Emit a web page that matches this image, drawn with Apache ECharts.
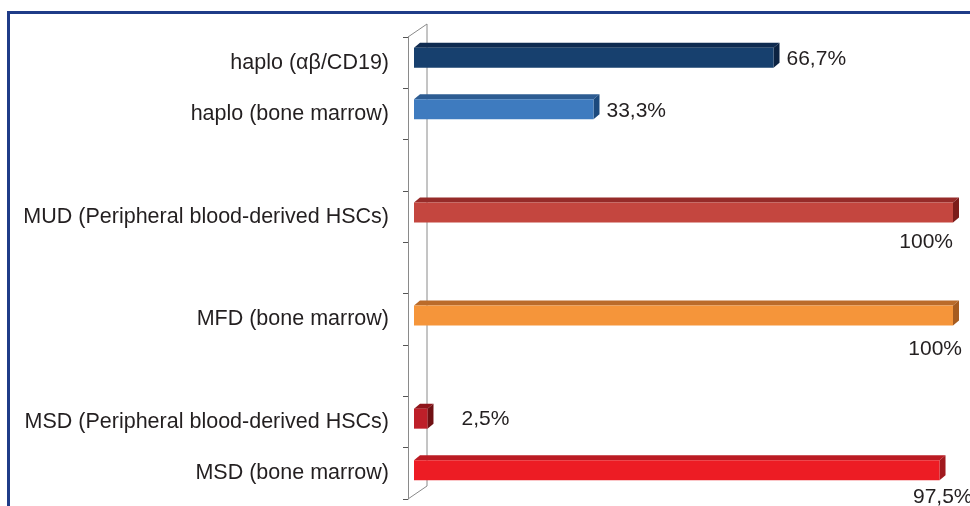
<!DOCTYPE html>
<html>
<head>
<meta charset="utf-8">
<script src="https://cdn.jsdelivr.net/npm/echarts@6/dist/echarts.min.js"></script>
<style>
  html, body { margin: 0; padding: 0; background: #ffffff; }
  #chart { width: 970px; height: 506px; }
</style>
</head>
<body>
<div id="chart"></div>
<script>
// Donor / graft source groups (blank entries are spacer rows)
const categories = [
  'haplo (αβ/CD19)',
  'haplo (bone marrow)',
  '',
  'MUD (Peripheral blood-derived HSCs)',
  '',
  'MFD (bone marrow)',
  '',
  'MSD (Peripheral blood-derived HSCs)',
  'MSD (bone marrow)'
];

// Share of patients per group, %
const shares = [66.7, 33.3, null, 100, null, 100, null, 2.5, 97.5];

// Face colours per row: front, top, side
const frontColors = ['#17406e', '#3e7bbf', null, '#c4463f', null, '#f5953a', null, '#be1f29', '#ed1c24'];
const topColors   = ['#0f2b50', '#2d5c92', null, '#962b29', null, '#ba6b2a', null, '#8f161b', '#bb1b23'];
const sideColors  = ['#0c2342', '#1c4a7d', null, '#7b1c1a', null, '#a65c20', null, '#701013', '#a1191e'];

// Value label placement relative to the bar end: [dx, dy, align]
const labelPlacement = [
  [7, 1, 'left'], [7, 2, 'left'], null,
  [0, 30, 'right'], null,
  [9, 34, 'right'], null,
  [28, 1, 'left'], [33, 27, 'right']
];

const BAR_H = 20;     // front face height
const DEPTH_X = 6;    // bar depth offset
const DEPTH_Y = 5;
const WALL_DX = 19;   // axis wall depth
const WALL_DY = 13;

const FONT = '"Liberation Sans", Arial, sans-serif';
const fmt = v => (v % 1 === 0 ? String(v) : v.toFixed(1).replace('.', ',')) + '%';

const chart = echarts.init(document.getElementById('chart'), null, { renderer: 'canvas' });

const front = { left: 408, top: 37, bottom: 7 };

function renderBar(params, api) {
  const v = api.value(0);
  const i = api.value(1);
  if (v == null || isNaN(v)) return;
  const p0 = api.coord([0, i]);
  const p1 = api.coord([v, i]);
  const x0 = p0[0], x1 = p1[0];
  const y0 = p0[1] - BAR_H / 2;
  const y1 = y0 + BAR_H;
  const pl = labelPlacement[i];
  return {
    type: 'group',
    children: [
      { type: 'polygon', shape: { points: [[x0, y0], [x0 + DEPTH_X, y0 - DEPTH_Y], [x1 + DEPTH_X, y0 - DEPTH_Y], [x1, y0]] },
        style: { fill: topColors[i] } },
      { type: 'polygon', shape: { points: [[x1, y0], [x1 + DEPTH_X, y0 - DEPTH_Y], [x1 + DEPTH_X, y1 - DEPTH_Y], [x1, y1]] },
        style: { fill: sideColors[i] } },
      { type: 'rect', shape: { x: x0, y: y0, width: x1 - x0, height: BAR_H },
        style: { fill: frontColors[i] } },
      { type: 'text',
        x: x1 + pl[0] + (pl[2] === 'right' ? 0 : DEPTH_X),
        y: p1[1] + pl[1],
        style: { text: fmt(v), fill: '#231f20', font: '21px ' + FONT,
                 align: pl[2], verticalAlign: 'middle' } }
    ]
  };
}

const option = {
  backgroundColor: '#ffffff',
  animation: false,
  grid: [
    { left: 414, right: 17, top: 32, bottom: 10 },
    { left: front.left, right: 17, top: front.top, bottom: front.bottom }
  ],
  xAxis: [
    { gridIndex: 0, type: 'value', min: 0, max: 100, show: false },
    { gridIndex: 1, type: 'value', min: 0, max: 100, show: false }
  ],
  yAxis: [
    { gridIndex: 0, type: 'category', data: categories, inverse: true, show: false },
    { gridIndex: 1, type: 'category', data: categories, inverse: true,
      axisLine: { show: true, lineStyle: { color: '#8a8a8a', width: 1 } },
      axisTick: { show: true, length: 5, lineStyle: { color: '#555555', width: 1 } },
      axisLabel: { margin: 19, color: '#231f20', fontSize: 21.5, fontFamily: FONT },
      splitLine: { show: false } }
  ],
  graphic: [
    // panel frame (top and left edges)
    { type: 'polyline', z: 0, silent: true,
      shape: { points: [[8.5, 506], [8.5, 12.5], [970, 12.5]] },
      style: { stroke: '#1f3c88', lineWidth: 3, fill: null } },
    // back wall of the category axis
    { type: 'polyline', z: 0, silent: true,
      shape: { points: [
        [front.left, front.top],
        [front.left + WALL_DX, front.top - WALL_DY],
        [front.left + WALL_DX, 506 - front.bottom - WALL_DY],
        [front.left, 506 - front.bottom]
      ] },
      style: { stroke: '#8a8a8a', lineWidth: 1, fill: null } }
  ],
  series: [
    {
      type: 'custom',
      xAxisIndex: 0,
      yAxisIndex: 0,
      z: 5,
      renderItem: renderBar,
      encode: { x: 0, y: 1 },
      data: shares.map((v, i) => [v == null ? NaN : v, i])
    }
  ]
};

chart.setOption(option);
</script>
</body>
</html>
